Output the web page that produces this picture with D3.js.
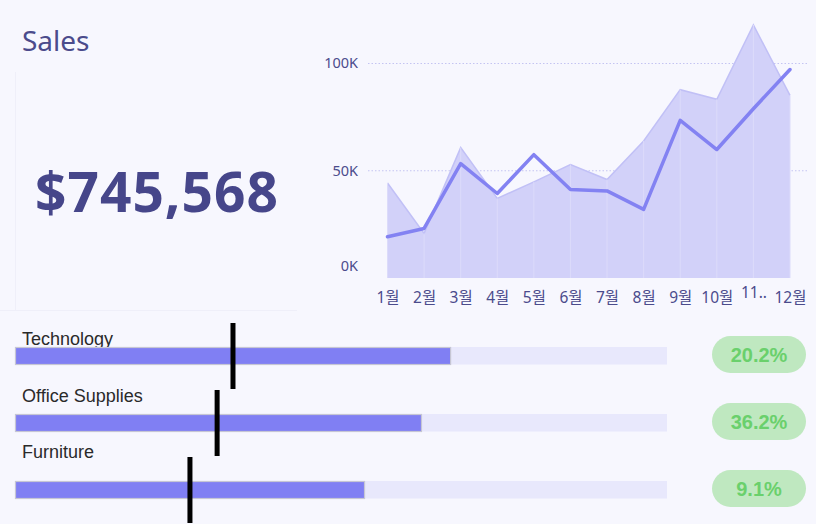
<!DOCTYPE html>
<html>
<head>
<meta charset="utf-8">
<script src="https://cdn.jsdelivr.net/npm/d3@7"></script>
<style>
  html, body { margin: 0; padding: 0; background: #f7f7fe; }
  svg { display: block; }
</style>
</head>
<body>
<div id="chart"></div>
<script>
// data
const months = ['1월', '2월', '3월', '4월', '5월', '6월', '7월', '8월', '9월', '10월', '11..', '12월']
const salesThisYear = [44300, 20800, 60800, 37100, 44800, 52900, 45900, 63900, 87800, 83300, 118000, 85100]
const salesLastYear = [19200, 23100, 53300, 39400, 57500, 41300, 40600, 32000, 73500, 59900, 78900, 97200]
const yTicks = [0, 50000, 100000]
const totalSales = 745568

const categories = ['Technology', 'Office Supplies', 'Furniture']
const catSales = [200200, 186800, 160600]
const catTarget = [100300, 93000, 80500]
const catGrowth = ['20.2%', '36.2%', '9.1%']

const W = 816, H = 524
const ink = '#4b4b8c'
const font = "'Noto Sans', 'Noto Sans CJK KR', sans-serif"

const svg = d3.select('#chart').append('svg')
  .attr('width', W)
  .attr('height', H)

// panel borders (very faint)
svg.append('line')
  .attr('x1', 15.5).attr('x2', 15.5).attr('y1', 72).attr('y2', 310)
  .attr('stroke', '#efeff9')
svg.append('line')
  .attr('x1', 0).attr('x2', 297).attr('y1', 310.5).attr('y2', 310.5)
  .attr('stroke', '#efeff9')

// KPI
svg.append('text')
  .attr('x', 22).attr('y', 51)
  .attr('font-family', font)
  .attr('font-size', 28)
  .attr('fill', ink)
  .text('Sales')

svg.append('text')
  .attr('x', 35).attr('y', 212)
  .attr('font-family', font)
  .attr('font-size', 55)
  .attr('font-weight', 'bold')
  .attr('letter-spacing', 1)
  .attr('fill', '#46468a')
  .text(d3.format('$,')(totalSales))

// monthly chart
const x = d3.scalePoint()
  .domain(months)
  .range([387.5, 790])

const y = d3.scaleLinear()
  .domain([0, 100000])
  .range([278, 63.5])

const chart = svg.append('g')

// gridlines
chart.selectAll('line.grid')
  .data(yTicks.filter(d => d > 0))
  .join('line')
    .attr('class', 'grid')
    .attr('x1', 368).attr('x2', 807)
    .attr('y1', d => y(d)).attr('y2', d => y(d))
    .attr('stroke', '#c4c4f2')
    .attr('stroke-width', 1)
    .attr('stroke-dasharray', '1.5,2')

// area (this year)
const area = d3.area()
  .x((d, i) => x(months[i]))
  .y0(y(0))
  .y1(d => y(d))

chart.append('path')
  .datum(salesThisYear)
  .attr('d', area)
  .attr('fill', '#d2d1f9')

chart.append('path')
  .datum(salesThisYear)
  .attr('d', d3.line().x((d, i) => x(months[i])).y(d => y(d)))
  .attr('fill', 'none')
  .attr('stroke', '#c1c0f6')
  .attr('stroke-width', 1.5)

// faint month separators inside the area
chart.selectAll('line.sep')
  .data(salesThisYear)
  .join('line')
    .attr('class', 'sep')
    .attr('x1', (d, i) => x(months[i])).attr('x2', (d, i) => x(months[i]))
    .attr('y1', d => y(d)).attr('y2', y(0))
    .attr('stroke', '#dcdbfa')
    .attr('stroke-width', 1)

// line (last year)
chart.append('path')
  .datum(salesLastYear)
  .attr('d', d3.line().x((d, i) => x(months[i])).y(d => y(d)))
  .attr('fill', 'none')
  .attr('stroke', '#8382f2')
  .attr('stroke-width', 3.5)
  .attr('stroke-linejoin', 'round')
  .attr('stroke-linecap', 'round')

// y axis
const yAxis = chart.append('g')
  .attr('transform', 'translate(358,0)')
  .call(d3.axisLeft(y).tickValues(yTicks).tickFormat(d => (d / 1000) + 'K').tickSize(0).tickPadding(0))
yAxis.select('.domain').remove()
yAxis.selectAll('text')
  .attr('font-family', font)
  .attr('font-size', 14.5)
  .attr('fill', ink)
  .attr('dy', d => d === 0 ? '-0.5em' : '0.3em')

// x axis
const xAxis = chart.append('g')
  .attr('transform', `translate(0,${y(0)})`)
  .call(d3.axisBottom(x).tickSize(0).tickPadding(14))
xAxis.select('.domain').remove()
xAxis.selectAll('text')
  .attr('font-family', font)
  .attr('font-size', 15.5)
  .attr('fill', ink)
  .attr('dy', d => d === '11..' ? '0.4em' : '0.7em')

// bullet rows
const bx = d3.scaleLinear()
  .domain([0, 300000])
  .range([15, 667])

const row = d3.scaleBand()
  .domain(categories)
  .range([322, 523])

const labelY = d3.scalePoint()
  .domain(categories)
  .range([345, 458])

const rows = svg.selectAll('g.row')
  .data(categories)
  .join('g')
    .attr('class', 'row')

rows.append('text')
  .attr('x', 22)
  .attr('y', d => labelY(d))
  .attr('font-family', "'Liberation Sans', Arial, sans-serif")
  .attr('font-size', 18)
  .attr('fill', '#2a2a2a')
  .text(d => d)

rows.append('rect')
  .attr('x', bx(0))
  .attr('y', d => row(d) + 25)
  .attr('width', bx(300000) - bx(0))
  .attr('height', 17.5)
  .attr('fill', '#e8e8fc')

rows.append('rect')
  .attr('x', bx(0) + 0.5)
  .attr('y', d => row(d) + 25.5)
  .attr('width', (d, i) => bx(catSales[i]) - bx(0))
  .attr('height', 17)
  .attr('fill', '#807ff3')
  .attr('stroke', '#c6c6d4')
  .attr('stroke-width', 1.2)

rows.append('rect')
  .attr('x', (d, i) => bx(catTarget[i]) - 2.5)
  .attr('y', d => row(d) + 1)
  .attr('width', 5)
  .attr('height', 66)
  .attr('fill', '#000')

rows.append('rect')
  .attr('x', 712)
  .attr('y', d => row(d) + 14)
  .attr('width', 94)
  .attr('height', 37)
  .attr('rx', 18.5)
  .attr('fill', '#bfe8c0')

rows.append('text')
  .attr('x', 759)
  .attr('y', d => row(d) + 33)
  .attr('dy', '0.36em')
  .attr('text-anchor', 'middle')
  .attr('font-family', "'Liberation Sans', Arial, sans-serif")
  .attr('font-size', 20)
  .attr('font-weight', 'bold')
  .attr('fill', '#6ad06c')
  .text((d, i) => catGrowth[i])
</script>
</body>
</html>
